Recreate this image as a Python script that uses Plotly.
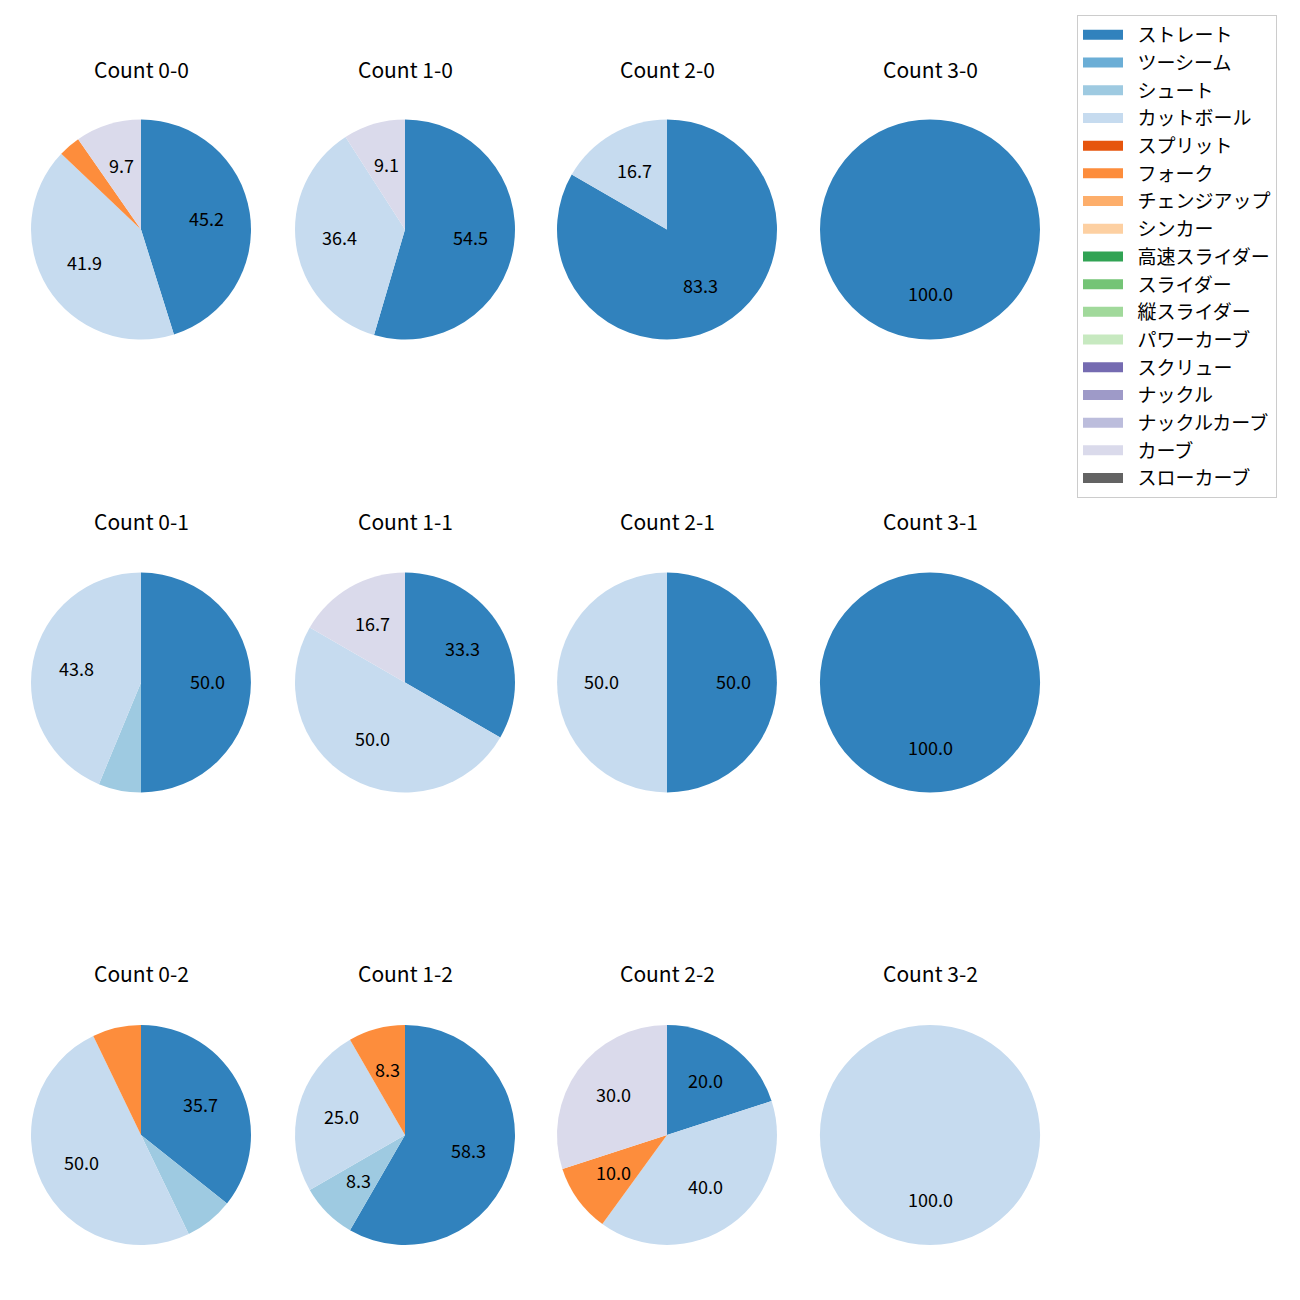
import math
import plotly.graph_objects as go

pitch_types = ["ストレート", "ツーシーム", "シュート", "カットボール", "スプリット", "フォーク",
               "チェンジアップ", "シンカー", "高速スライダー", "スライダー", "縦スライダー",
               "パワーカーブ", "スクリュー", "ナックル", "ナックルカーブ", "カーブ", "スローカーブ"]
colors = ["#3182bd", "#6baed6", "#9ecae1", "#c6dbef", "#e6550d", "#fd8d3c", "#fdae6b", "#fdd0a2",
          "#31a354", "#74c476", "#a1d99b", "#c7e9c0", "#756bb1", "#9e9ac8", "#bcbddc", "#dadaeb",
          "#636363"]

titles = ["Count 0-0", "Count 1-0", "Count 2-0", "Count 3-0",
          "Count 0-1", "Count 1-1", "Count 2-1", "Count 3-1",
          "Count 0-2", "Count 1-2", "Count 2-2", "Count 3-2"]

# pitch counts per count situation (percent labels derived from these)
count_labels = [
    ["ストレート", "カットボール", "フォーク", "カーブ"],
    ["ストレート", "カットボール", "カーブ"],
    ["ストレート", "カットボール"],
    ["ストレート"],
    ["ストレート", "シュート", "カットボール"],
    ["ストレート", "カットボール", "カーブ"],
    ["ストレート", "カットボール"],
    ["ストレート"],
    ["ストレート", "シュート", "カットボール", "フォーク"],
    ["ストレート", "シュート", "カットボール", "フォーク"],
    ["ストレート", "カットボール", "フォーク", "カーブ"],
    ["カットボール"],
]
count_values = [
    [14, 13, 1, 3],
    [6, 4, 1],
    [5, 1],
    [1],
    [8, 1, 7],
    [2, 3, 1],
    [1, 1],
    [1],
    [5, 1, 7, 1],
    [7, 1, 3, 1],
    [2, 4, 1, 3],
    [1],
]

W = H = 1300
col_x = [141, 405, 667, 930]
row_y = [229.5, 682.5, 1135]
title_y = [69, 521, 973]
R = 110
FONT = "Noto Sans CJK JP"
color_map = dict(zip(pitch_types, colors))

fig = go.Figure()
annotations = []
for i, (labs, vals) in enumerate(zip(count_labels, count_values)):
    r, c = divmod(i, 4)
    cx, cy = col_x[c], row_y[r]
    fig.add_trace(go.Pie(
        labels=labs, values=vals, sort=False, direction="clockwise", rotation=0,
        marker=dict(colors=[color_map[l] for l in labs], line=dict(width=0)),
        textinfo="none", showlegend=False,
        domain=dict(x=[(cx - R) / W, (cx + R) / W], y=[1 - (cy + R) / H, 1 - (cy - R) / H]),
    ))
    total = sum(vals)
    cum = 0
    for l, v in zip(labs, vals):
        pct = 100 * v / total
        mid = 90 - 360 * (cum + v / 2) / total
        cum += v
        if pct < 8:
            continue
        px = cx + 0.6 * R * math.cos(math.radians(mid))
        py = cy - 0.6 * R * math.sin(math.radians(mid)) - 2
        annotations.append(dict(x=px / W, y=1 - py / H, xref="paper", yref="paper",
                                xanchor="center", yanchor="middle",
                                text=f"{pct:.1f}", showarrow=False,
                                font=dict(size=18, color="black", family=FONT)))
    annotations.append(dict(x=cx / W, y=1 - title_y[r] / H, xref="paper", yref="paper",
                            xanchor="center", yanchor="middle",
                            text=titles[i], showarrow=False,
                            font=dict(size=21, color="black", family=FONT)))

for name, col in zip(pitch_types, colors):
    fig.add_trace(go.Scatter(x=[None], y=[None], name="\u2002" + name, mode="lines",
                             line=dict(color=col, width=14),
                             legendgroup=name, showlegend=True))

fig.update_layout(
    width=W, height=H, margin=dict(l=0, r=0, t=0, b=0),
    paper_bgcolor="white", plot_bgcolor="white",
    font=dict(family=FONT, size=14, color="black"),
    xaxis=dict(visible=False), yaxis=dict(visible=False),
    annotations=annotations,
    legend=dict(x=1077 / W, y=1 - 15 / H, xanchor="left", yanchor="top",
                bordercolor="#cccccc", borderwidth=1, bgcolor="white",
                font=dict(size=19, family=FONT), tracegroupgap=0,
                itemwidth=40),
)
fig.write_html("out.html", config={"displayModeBar": False},
               post_script="document.body.style.margin='0';")
